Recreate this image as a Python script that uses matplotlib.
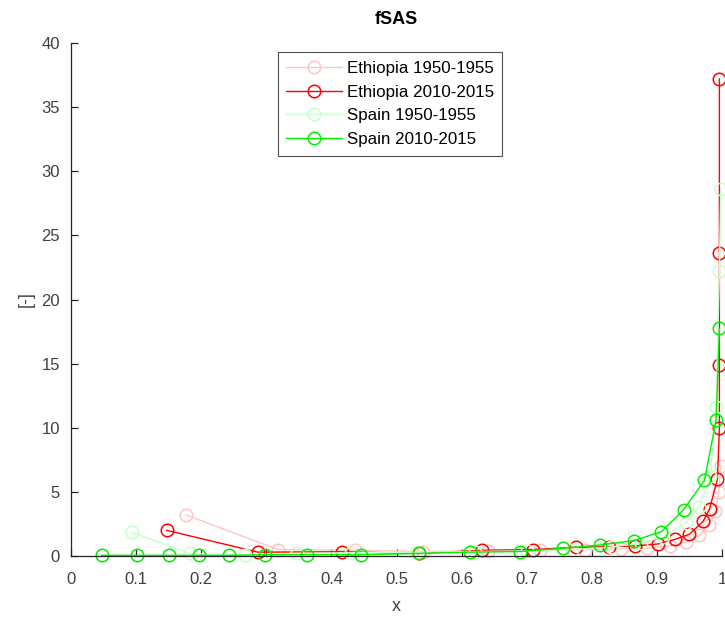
import matplotlib
matplotlib.use('Agg')
import matplotlib.pyplot as plt

plt.rcParams['font.family'] = ['Liberation Sans', 'DejaVu Sans']

# Ethiopia 1950-1955
eth50_x = [0.177, 0.318, 0.436, 0.540, 0.640, 0.720, 0.790, 0.845, 0.885, 0.920,
           0.945, 0.965, 0.980, 0.990, 0.995, 0.998]
eth50_y = [3.2, 0.5, 0.45, 0.35, 0.4, 0.45, 0.5, 0.55, 0.6, 0.8,
           1.1, 1.6, 2.4, 3.5, 5.0, 7.0]

# Ethiopia 2010-2015
eth10_x = [0.147, 0.287, 0.417, 0.535, 0.632, 0.709, 0.776, 0.827, 0.866, 0.902,
           0.928, 0.950, 0.971, 0.981, 0.993, 0.996, 0.996, 0.996, 0.996]
eth10_y = [2.0, 0.3, 0.33, 0.2, 0.45, 0.5, 0.68, 0.73, 0.78, 0.94,
           1.3, 1.7, 2.7, 3.7, 6.0, 9.95, 14.9, 23.6, 37.2]

# Spain 1950-1955
esp50_x = [0.093, 0.183, 0.267, 0.347, 0.430, 0.530, 0.620, 0.700, 0.770, 0.830,
           0.875, 0.910, 0.945, 0.965, 0.982, 0.991, 0.996, 0.998]
esp50_y = [1.85, 0.2, 0.1, 0.2, 0.25, 0.3, 0.35, 0.4, 0.5, 0.7,
           1.0, 1.5, 2.6, 3.8, 6.2, 11.6, 22.2, 28.6]

# Spain 2010-2015
esp10_x = [0.047, 0.102, 0.150, 0.196, 0.243, 0.298, 0.362, 0.446, 0.535, 0.613,
           0.690, 0.756, 0.813, 0.865, 0.907, 0.941, 0.973, 0.991, 0.996]
esp10_y = [0.05, 0.05, 0.05, 0.05, 0.05, 0.1, 0.1, 0.1, 0.2, 0.3,
           0.35, 0.6, 0.86, 1.2, 1.9, 3.6, 5.9, 10.6, 17.75]

series = [
    (eth50_x, eth50_y, '#ffc4c4', 'Ethiopia 1950-1955'),
    (eth10_x, eth10_y, '#ff0000', 'Ethiopia 2010-2015'),
    (esp50_x, esp50_y, '#c8ffc8', 'Spain 1950-1955'),
    (esp10_x, esp10_y, '#00ee00', 'Spain 2010-2015'),
]

fig = plt.figure(figsize=(7.25, 6.17), dpi=100)
ax = fig.add_axes([71/725, 1-556/617, (722-71)/725, (556-43)/617])

for xs, ys, c, lab in series:
    ax.plot(xs, ys, '-o', color=c, lw=1.0, ms=9, mfc='none', mew=1.1,
            label=lab, clip_on=False)

ax.set_xlim(0, 1)
ax.set_ylim(0, 40)
ax.set_xticks([i/10 for i in range(11)])
ax.set_xticklabels(['0', '0.1', '0.2', '0.3', '0.4', '0.5', '0.6', '0.7', '0.8', '0.9', '1'])
ax.set_yticks(range(0, 41, 5))

grey = '#262626'
for s in ['top', 'right']:
    ax.spines[s].set_visible(False)
for s in ['left', 'bottom']:
    ax.spines[s].set_color(grey)
    ax.spines[s].set_linewidth(0.9)
ax.tick_params(direction='in', length=5, width=0.9, colors=grey, labelsize=12,
               labelcolor='#404040')
ax.tick_params(axis='x', pad=11.5)
ax.tick_params(axis='y', pad=8)

ax.set_xlabel('x', fontsize=13, color='#404040', labelpad=8)
ax.set_ylabel('[-]', fontsize=13, color='#404040', labelpad=5)
ax.set_title('fSAS', fontsize=13, fontweight='bold', pad=14)

leg = ax.legend(loc='upper left', bbox_to_anchor=(0.318, 0.982), fontsize=12.2,
                frameon=True, fancybox=False, handlelength=3.3, handletextpad=0.25,
                borderpad=0.5, labelspacing=0.52, borderaxespad=0)
leg.get_frame().set_edgecolor(grey)
leg.get_frame().set_linewidth(0.8)

plt.savefig('out.png', dpi=100)
